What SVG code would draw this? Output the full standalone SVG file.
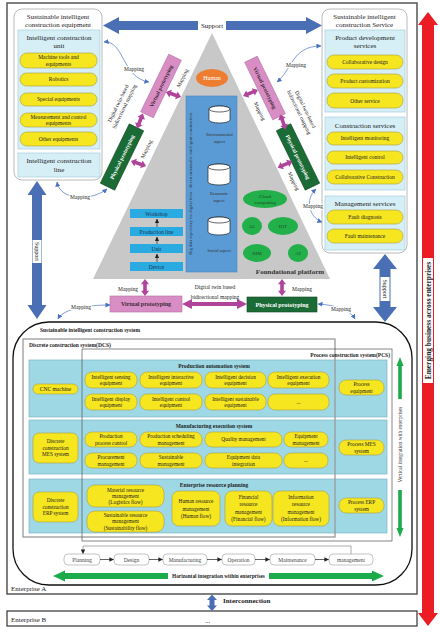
<svg xmlns="http://www.w3.org/2000/svg" width="440" height="634" viewBox="0 0 440 634">
<defs>
<style>
text{font-family:"Liberation Serif","Times New Roman",serif;fill:#222;}
.c{text-anchor:middle;}
.e{text-anchor:end;}
.b{font-weight:bold;}
.f45{font-size:4.5px;}
.f5{font-size:5px;}
.f53{font-size:5.3px;}
.f55{font-size:5.5px;}
.f6{font-size:6px;}
.f7{font-size:7px;}
.halo{paint-order:stroke;stroke:#fff;stroke-width:2px;stroke-linejoin:round;}
.panel{fill:#fff;stroke:#a8a8a8;stroke-width:0.8;}
.lb{fill:#d6eef5;stroke:#a6cfdc;stroke-width:0.7;}
.pill{fill:#f6e61f;stroke:#a89d45;stroke-width:0.6;}
.row{fill:#9fd8e5;stroke:#7cb6c6;stroke-width:0.7;}
.vp{fill:#d88ec4;stroke:#b56fa3;stroke-width:0.6;}
.pp{fill:#1b6b36;stroke:#0f4a22;stroke-width:0.6;}
.mag{fill:#b0449a;}
.blue{fill:#4a6fb5;}
.map{fill:none;stroke:#4a72c4;stroke-width:0.7;marker-start:url(#ba);marker-end:url(#ba);}
.cyl{fill:#fff;stroke:#222;stroke-width:0.7;}
.bar{fill:#29abe2;}
.ge{fill:#22b04b;}
.flow{fill:#fff;stroke:#9a9a9a;stroke-width:0.6;}
.farr{fill:none;stroke:#222;stroke-width:0.7;marker-end:url(#ka);}
</style>
<marker id="ba" viewBox="0 0 6 6" refX="5.5" refY="3" markerWidth="5" markerHeight="5" markerUnits="userSpaceOnUse" orient="auto-start-reverse"><path d="M0,0 L6,3 L0,6 z" fill="#4a72c4"/></marker>
<marker id="ka" viewBox="0 0 6 6" refX="5.5" refY="3" markerWidth="4.5" markerHeight="4.5" markerUnits="userSpaceOnUse" orient="auto"><path d="M0,0 L6,3 L0,6 z" fill="#222"/></marker>
<polygon id="marr" points="-8,0 -3,-4 -3,-1.8 3,-1.8 3,-4 8,0 3,4 3,1.8 -3,1.8 -3,4"/>
</defs>
<rect x="0" y="0" width="440" height="634" fill="#fff"/>

<g id="enterprise-a">
<rect x="7" y="3" width="410" height="591" fill="none" stroke="#555" stroke-width="1.5"/>
<text x="11" y="590.5" class="f7">Enterprise A</text>
</g>
<g id="enterprise-b">
<rect x="7" y="611" width="410" height="15" fill="none" stroke="#333" stroke-width="1.2"/>
<text x="11" y="621.5" class="f7">Enterprise B</text>
<text x="205" y="623" class="f7">...</text>
</g>

<!-- Equipment panel -->
<g id="equipment-panel">
<rect x="14" y="9" width="88" height="171" rx="8" class="panel"/>
<text x="58" y="18.5" class="c f7">Sustainable intelligent</text>
<text x="58" y="26.5" class="c f7">construction equipment</text>
<rect x="18" y="30" width="82" height="119" class="lb"/>
<text x="59" y="40" class="c f7">Intelligent construction</text>
<text x="59" y="48" class="c f7">unit</text>
<rect x="20" y="53" width="77" height="15" rx="7" class="pill"/>
<text x="58.5" y="59.3" class="c f55">Machine tools and</text>
<text x="58.5" y="65.8" class="c f55">equipments</text>
<rect x="20" y="73" width="77" height="13" rx="6.5" class="pill"/>
<text x="58.5" y="81.4" class="c f55">Robotics</text>
<rect x="20" y="93" width="77" height="13" rx="6.5" class="pill"/>
<text x="58.5" y="101.4" class="c f55">Special equipments</text>
<rect x="20" y="113" width="77" height="14" rx="7" class="pill"/>
<text x="58.5" y="119" class="c f55">Measurement and control</text>
<text x="58.5" y="125.3" class="c f55">equipments</text>
<rect x="20" y="132" width="77" height="14" rx="7" class="pill"/>
<text x="58.5" y="140.9" class="c f55">Other equipments</text>
<rect x="18" y="153" width="82" height="24" class="lb"/>
<text x="59" y="163" class="c f7">Intelligent construction</text>
<text x="59" y="172" class="c f7">line</text>
</g>

<!-- Service panel -->
<g id="service-panel">
<rect x="322" y="9" width="85" height="244" rx="8" class="panel"/>
<text x="364.5" y="18.5" class="c f7">Sustainable intelligent</text>
<text x="364.5" y="26.5" class="c f7">construction Service</text>
<rect x="325" y="30" width="80" height="82" class="lb"/>
<text x="365" y="40" class="c f7">Product development</text>
<text x="365" y="48" class="c f7">services</text>
<rect x="327" y="55" width="76" height="14" rx="7" class="pill"/>
<text x="365" y="64" class="c f55">Collaborative design</text>
<rect x="327" y="74" width="76" height="14" rx="7" class="pill"/>
<text x="365" y="83" class="c f55">Product customization</text>
<rect x="327" y="93" width="76" height="15" rx="7" class="pill"/>
<text x="365" y="102.5" class="c f55">Other service</text>
<rect x="325" y="117" width="80" height="73" class="lb"/>
<text x="365" y="128" class="c f7">Construction services</text>
<rect x="327" y="132" width="76" height="13" rx="6.5" class="pill"/>
<text x="365" y="140.4" class="c f55">Intelligent monitoring</text>
<rect x="327" y="151" width="76" height="13" rx="6.5" class="pill"/>
<text x="365" y="159.4" class="c f55">Intelligent control</text>
<rect x="327" y="170" width="76" height="14" rx="7" class="pill"/>
<text x="365" y="178.9" class="c f55">Collaborative Construction</text>
<rect x="325" y="196" width="80" height="54" class="lb"/>
<text x="365" y="206" class="c f7">Management services</text>
<rect x="327" y="210" width="76" height="14" rx="7" class="pill"/>
<text x="365" y="218.9" class="c f55">Fault diagnosis</text>
<rect x="327" y="229" width="76" height="14" rx="7" class="pill"/>
<text x="365" y="237.9" class="c f55">Fault maintenance</text>
</g>

<!-- Pyramid -->
<g id="foundational-platform">
<polygon points="212,33 93,279 330,279" fill="#c8c8c8"/>
<text x="290" y="274" class="c b f7" style="fill:#333">Foundational platform</text>
</g>
<g id="human">
<ellipse cx="212" cy="78" rx="16" ry="9" fill="#ed7d31"/>
<text x="212" y="80.2" class="c f6" style="fill:#fff">Human</text>
</g>
<g id="big-data">
<rect x="186" y="96" width="51" height="176" fill="#5b9bd5" stroke="#4a86c0" stroke-width="0.6"/>
<text transform="translate(191.5,184) rotate(-90)" class="c f45" style="fill:#2b3b4f">Big data repository for digital twin - driven sustainable intelligent construction</text>
<path d="M209,109 v11 a10.5,3 0 0 0 21,0 v-11 a10.5,3 0 0 0 -21,0 z" class="cyl"/>
<ellipse cx="219.5" cy="109" rx="10.5" ry="3" class="cyl"/>
<text x="219.5" y="136" class="c f45" style="fill:#333">Environmental</text>
<text x="219.5" y="142.5" class="c f45" style="fill:#333">aspect</text>
<path d="M208,167 v15 a11,3 0 0 0 22,0 v-15 a11,3 0 0 0 -22,0 z" class="cyl"/>
<ellipse cx="219" cy="167" rx="11" ry="3" class="cyl"/>
<text x="219" y="195" class="c f45" style="fill:#333">Economic</text>
<text x="219" y="202" class="c f45" style="fill:#333">aspect</text>
<path d="M208,220 v12 a11,3 0 0 0 22,0 v-12 a11,3 0 0 0 -22,0 z" class="cyl"/>
<ellipse cx="219" cy="220" rx="11" ry="3" class="cyl"/>
<text x="219" y="252" class="c f45" style="fill:#333">Social aspect</text>
</g>
<g id="workshop"><rect x="130" y="209" width="53" height="9" class="bar"/><text x="156.5" y="215.6" class="c f55" style="fill:#1d2f4a">Workshop</text></g>
<g id="production-line"><rect x="130" y="227" width="53" height="9" class="bar"/><text x="156.5" y="233.6" class="c f55" style="fill:#1d2f4a">Production line</text></g>
<g id="unit"><rect x="130" y="244" width="53" height="9" class="bar"/><text x="156.5" y="250.6" class="c f55" style="fill:#1d2f4a">Unit</text></g>
<g id="device"><rect x="130" y="262" width="53" height="9" class="bar"/><text x="156.5" y="268.6" class="c f55" style="fill:#1d2f4a">Device</text></g>
<g id="cloud"><ellipse cx="265" cy="199" rx="22" ry="9" class="ge"/><text x="265" y="197.5" class="c f5" style="fill:#1c4a26">Cloud</text><text x="265" y="203.5" class="c f5" style="fill:#1c4a26">computing</text></g>
<g id="g5"><ellipse cx="252" cy="226" rx="10" ry="9" class="ge"/><text x="252" y="227.8" class="c f5" style="fill:#1c4a26">5G</text></g>
<g id="iot"><ellipse cx="283" cy="226" rx="15" ry="9" class="ge"/><text x="283" y="227.8" class="c f5" style="fill:#1c4a26">IOT</text></g>
<g id="bim"><ellipse cx="257" cy="253" rx="14" ry="9" class="ge"/><text x="257" y="254.8" class="c f5" style="fill:#1c4a26">BIM</text></g>
<g id="ai"><ellipse cx="298" cy="253" rx="10" ry="9" class="ge"/><text x="298" y="254.8" class="c f5" style="fill:#1c4a26">AI</text></g>

<!-- Prototyping boxes -->
<g id="vp-left" transform="translate(161,86) rotate(-64)"><rect x="-32" y="-7" width="64" height="14" class="vp"/><text x="0" y="2" class="c b f55" style="fill:#3a2a35">Virtual prototyping</text></g>
<g id="pp-left" transform="translate(122,157) rotate(-64)"><rect x="-33" y="-8" width="66" height="16" class="pp"/><text x="0" y="2" class="c b f55" style="fill:#fff">Physical prototyping</text></g>
<g id="vp-right" transform="translate(265,88) rotate(64)"><rect x="-32" y="-7" width="64" height="14" class="vp"/><text x="0" y="2" class="c b f55" style="fill:#3a2a35">Virtual prototyping</text></g>
<g id="pp-right" transform="translate(298,157) rotate(64)"><rect x="-33" y="-8" width="66" height="16" class="pp"/><text x="0" y="2" class="c b f55" style="fill:#fff">Physical prototyping</text></g>
<g id="vp-bottom"><rect x="110" y="296" width="72" height="16" class="vp"/><text x="146" y="306.2" class="c b f6" style="fill:#3a2a35">Virtual prototyping</text></g>
<g id="pp-bottom"><rect x="247" y="297" width="70" height="15" class="pp"/><text x="282" y="306.7" class="c b f6" style="fill:#fff">Physical prototyping</text></g>

<!-- System -->
<g id="system">
<rect x="13" y="322" width="399" height="263" rx="36" fill="none" stroke="#111" stroke-width="1.3"/>
<text x="40" y="331.5" class="b f55">Sustainable intelligent construction system</text>
</g>
<g id="production-automation-system">
<rect x="29" y="360" width="358" height="57" class="row"/>
<text x="214" y="368" class="c b f55">Production automation system</text>
</g>
<g id="manufacturing-execution-system">
<rect x="29" y="420" width="358" height="54" class="row"/>
<text x="214" y="427.5" class="c b f55">Manufacturing execution system</text>
</g>
<g id="enterprise-resource-planning">
<rect x="29" y="479" width="358" height="54" class="row"/>
<text x="214" y="486.5" class="c b f55">Enterprise resource planning</text>
</g>
<g id="dcs">
<rect x="23" y="339" width="312" height="198" fill="none" stroke="#9a9a9a" stroke-width="1.3"/>
<text x="29" y="347" class="b f55">Discrete construction system(DCS)</text>
</g>
<g id="pcs">
<rect x="82" y="349" width="310" height="192" fill="none" stroke="#555" stroke-width="0.7"/>
<text x="390" y="356.5" class="e b f55">Process construction system(PCS)</text>
</g>

<g id="pas-items">
<rect x="33" y="384" width="45" height="10" rx="5" class="pill"/><text x="55.5" y="390.9" class="c f55">CNC machine</text>
<rect x="85" y="372" width="52" height="16" rx="7" class="pill"/><text x="111" y="378.7" class="c f53">Intelligent sensing</text><text x="111" y="385.2" class="c f53">equipment</text>
<rect x="140" y="372" width="62" height="16" rx="7" class="pill"/><text x="171" y="378.7" class="c f53">Intelligent interactive</text><text x="171" y="385.2" class="c f53">equipment</text>
<rect x="205" y="372" width="61" height="16" rx="7" class="pill"/><text x="235.5" y="378.7" class="c f53">Intelligent decision</text><text x="235.5" y="385.2" class="c f53">equipment</text>
<rect x="268" y="372" width="61" height="16" rx="7" class="pill"/><text x="298.5" y="378.7" class="c f53">Intelligent execution</text><text x="298.5" y="385.2" class="c f53">equipment</text>
<rect x="85" y="394" width="52" height="16" rx="7" class="pill"/><text x="111" y="400.7" class="c f53">Intelligent display</text><text x="111" y="407.2" class="c f53">equipment</text>
<rect x="140" y="394" width="62" height="16" rx="7" class="pill"/><text x="171" y="400.7" class="c f53">Intelligent control</text><text x="171" y="407.2" class="c f53">equipment</text>
<rect x="205" y="394" width="61" height="16" rx="7" class="pill"/><text x="235.5" y="400.7" class="c f53">Intelligent sustainable</text><text x="235.5" y="407.2" class="c f53">equipment</text>
<rect x="268" y="394" width="61" height="16" rx="7" class="pill"/><text x="298.5" y="403.5" class="c f53">...</text>
<rect x="339" y="380" width="45" height="15" rx="7" class="pill"/><text x="361.5" y="386.2" class="c f53">Process</text><text x="361.5" y="392.7" class="c f53">equipment</text>
</g>
<g id="mes-items">
<rect x="33" y="433" width="45" height="30" rx="6" class="pill"/><text x="55.5" y="443.4" class="c f53">Discrete</text><text x="55.5" y="449.9" class="c f53">construction</text><text x="55.5" y="456.4" class="c f53">MES system</text>
<rect x="85" y="432" width="52" height="15" rx="7" class="pill"/><text x="111" y="438.2" class="c f53">Production</text><text x="111" y="444.7" class="c f53">process control</text>
<rect x="140" y="432" width="62" height="15" rx="7" class="pill"/><text x="171" y="438.2" class="c f53">Production scheduling</text><text x="171" y="444.7" class="c f53">management</text>
<rect x="205" y="432" width="77" height="15" rx="7" class="pill"/><text x="243.5" y="441.4" class="c f53">Quality management</text>
<rect x="284" y="432" width="44" height="15" rx="7" class="pill"/><text x="306" y="438.2" class="c f53">Equipment</text><text x="306" y="444.7" class="c f53">management</text>
<rect x="85" y="453" width="52" height="15" rx="7" class="pill"/><text x="111" y="459.2" class="c f53">Procurement</text><text x="111" y="465.7" class="c f53">management</text>
<rect x="140" y="453" width="62" height="15" rx="7" class="pill"/><text x="171" y="459.2" class="c f53">Sustainable</text><text x="171" y="465.7" class="c f53">management</text>
<rect x="205" y="453" width="77" height="15" rx="7" class="pill"/><text x="243.5" y="459.2" class="c f53">Equipment data</text><text x="243.5" y="465.7" class="c f53">integration</text>
<rect x="284" y="453" width="44" height="15" rx="7" class="pill"/><text x="306" y="462" class="c f53">...</text>
<rect x="339" y="440" width="45" height="15" rx="7" class="pill"/><text x="361.5" y="446.2" class="c f53">Process MES</text><text x="361.5" y="452.7" class="c f53">system</text>
</g>
<g id="erp-items">
<rect x="33" y="492" width="45" height="30" rx="6" class="pill"/><text x="55.5" y="502.4" class="c f53">Discrete</text><text x="55.5" y="508.9" class="c f53">construction</text><text x="55.5" y="515.4" class="c f53">ERP system</text>
<rect x="87" y="485" width="77" height="22" rx="8" class="pill"/><text x="125.5" y="491.6" class="c f53">Material resource</text><text x="125.5" y="497.9" class="c f53">management</text><text x="125.5" y="504.2" class="c f53">(Logistics flow)</text>
<rect x="87" y="511" width="77" height="21" rx="8" class="pill"/><text x="125.5" y="517.1" class="c f53">Sustainable resource</text><text x="125.5" y="523.4" class="c f53">management</text><text x="125.5" y="529.7" class="c f53">(Sustainability flow)</text>
<rect x="172" y="491" width="48" height="35" rx="7" class="pill"/><text x="196" y="503.2" class="c f53">Human resource</text><text x="196" y="510.7" class="c f53">management</text><text x="196" y="518.2" class="c f53">(Human flow)</text>
<rect x="225" y="491" width="47" height="35" rx="7" class="pill"/><text x="248.5" y="498.8" class="c f53">Financial</text><text x="248.5" y="506.3" class="c f53">resource</text><text x="248.5" y="513.8" class="c f53">management</text><text x="248.5" y="521.3" class="c f53">(Financial flow)</text>
<rect x="273" y="491" width="56" height="35" rx="7" class="pill"/><text x="301" y="498.8" class="c f53">Information</text><text x="301" y="506.3" class="c f53">resource</text><text x="301" y="513.8" class="c f53">management</text><text x="301" y="521.3" class="c f53">(Information flow)</text>
<rect x="339" y="498" width="45" height="15" rx="7" class="pill"/><text x="361.5" y="504.2" class="c f53">Process ERP</text><text x="361.5" y="510.7" class="c f53">system</text>
</g>

<g id="lifecycle">
<g id="planning"><rect x="64" y="554" width="36" height="11" rx="4" class="flow"/><text x="82" y="561.6" class="c f55" style="fill:#444">Planning</text></g>
<g id="design"><rect x="114" y="554" width="35" height="11" rx="4" class="flow"/><text x="131.5" y="561.6" class="c f55" style="fill:#444">Design</text></g>
<g id="manufacturing"><rect x="163" y="554" width="44" height="11" rx="4" class="flow"/><text x="185" y="561.6" class="c f55" style="fill:#444">Manufacturing</text></g>
<g id="operation"><rect x="222" y="554" width="33" height="11" rx="4" class="flow"/><text x="238.5" y="561.6" class="c f55" style="fill:#444">Operation</text></g>
<g id="maintenance"><rect x="270" y="554" width="45" height="11" rx="4" class="flow"/><text x="292.5" y="561.6" class="c f55" style="fill:#444">Maintenance</text></g>
<g id="management"><rect x="329" y="554" width="44" height="11" rx="4" class="flow"/><text x="351" y="561.6" class="c f55" style="fill:#444">management</text></g>
</g>

<!-- Connectors -->
<g id="connectors">
<!-- top support -->
<polygon class="blue" points="103,25.5 119,17 119,21 306,21 306,17 322,25.5 306,34 306,30 119,30 119,34"/>
<rect x="198" y="21" width="28" height="9" fill="#fff"/>
<text x="212" y="28.3" class="c f7">Support</text>
<!-- left support -->
<polygon class="blue" points="37,181 46.5,195 42,195 42,305 46.5,305 37,319 27.5,305 32,305 32,195 27.5,195"/>
<rect x="32.5" y="240" width="9" height="23" fill="#fff"/>
<text transform="translate(37,251.5) rotate(90)" x="0" y="2.2" class="c f6">Support</text>
<!-- right support -->
<polygon class="blue" points="385,254 397,269 390.5,269 390.5,307 397,307 385,322 373,307 379.5,307 379.5,269 373,269"/>
<rect x="380.5" y="277" width="9" height="24" fill="#fff"/>
<text transform="translate(385,289) rotate(90)" x="0" y="2.2" class="c f6">Support</text>
<!-- red emerging business -->
<polygon fill="#ec1c24" points="428,12 438,25 434,25 434,613 438,613 428,626 418,613 422,613 422,25 418,25"/>
<rect x="423" y="258" width="10" height="125" fill="#fff"/>
<text transform="translate(428,320.5) rotate(-90)" x="0" y="2.6" class="c b" style="font-size:7.4px">Emerging business across enterprises</text>
<!-- interconnection -->
<polygon class="blue" points="212,594.5 217,600 214.5,600 214.5,605.5 217,605.5 212,611 207,605.5 209.5,605.5 209.5,600 207,600"/>
<text x="223" y="602.5" class="b f7">Interconnection</text>

<!-- magenta arrows -->
<use href="#marr" class="mag" transform="translate(173.5,94.5) rotate(18)"/>
<use href="#marr" class="mag" transform="translate(140,121) rotate(112)"/>
<use href="#marr" class="mag" transform="translate(138.5,163.5) rotate(18)"/>
<use href="#marr" class="mag" transform="translate(250.5,93) rotate(-22)"/>
<use href="#marr" class="mag" transform="translate(283,122) rotate(70)"/>
<use href="#marr" class="mag" transform="translate(285,164.5) rotate(-24)"/>
<use href="#marr" class="mag" transform="translate(145,287.5) rotate(90) scale(1.05,1)"/>
<use href="#marr" class="mag" transform="translate(282,287.5) rotate(90) scale(1.05,1)"/>
<polygon class="mag" points="182,304 192,299 192,302 237,302 237,299 247,304 237,309 237,306 192,306 192,309"/>

<!-- mapping labels near triangle -->
<text transform="translate(184,79) rotate(-64)" class="c f55">Mapping</text>
<text transform="translate(148,150) rotate(-64)" class="c f55">Mapping</text>
<text transform="translate(258,112) rotate(64)" class="c f55">Mapping</text>
<text transform="translate(292,182) rotate(64)" class="c f55">Mapping</text>
<text x="128" y="291" class="c f55">Mapping</text>
<text x="302" y="291" class="c f55">Mapping</text>

<!-- digital twin labels -->
<g transform="translate(121.5,105) rotate(-64)">
<text x="0" y="-2" class="c f55">Digital twin-based</text>
<text x="0" y="5" class="c f55">bidirectional mapping</text>
</g>
<g transform="translate(302,111) rotate(64)">
<text x="0" y="-2" class="c f55">Digital twin-based</text>
<text x="0" y="5" class="c f55">bidirectional mapping</text>
</g>
<text x="215" y="289" class="c f55">Digital twin based</text>
<text x="215" y="298.5" class="c f55">bidirectional mapping</text>

<!-- blue mapping curves -->
<path class="map" d="M104,42 C124,40 122,78 149,82"/>
<text x="134" y="71" class="c f55 halo">Mapping</text>
<path class="map" d="M57,182 C60,201 92,201 107,189"/>
<text x="80" y="199" class="c f55 halo">Mapping</text>
<path class="map" d="M277,82 C292,70 292,46 321,46"/>
<text x="296" y="67" class="c f55 halo">Mapping</text>
<path class="map" d="M316,189 C304,200 310,218 322,222"/>
<text x="313" y="207.5" class="c f55 halo">Mapping</text>
<path class="map" d="M110,305 C88,305 64,308 58,319"/>
<text x="81" y="309" class="c f55 halo">Mapping</text>
<path class="map" d="M318,304 C336,305 350,310 355,319"/>
<text x="341" y="310.5" class="c f55 halo">Mapping</text>

<!-- hierarchy arrows -->
<line x1="157" y1="262" x2="157" y2="254" class="farr"/>
<line x1="157" y1="244" x2="157" y2="237" class="farr"/>
<line x1="157" y1="227" x2="157" y2="219" class="farr"/>

<!-- lifecycle arrows -->
<line x1="100" y1="559.5" x2="113.5" y2="559.5" class="farr"/>
<line x1="149" y1="559.5" x2="162.5" y2="559.5" class="farr"/>
<line x1="207" y1="559.5" x2="221.5" y2="559.5" class="farr"/>
<line x1="255" y1="559.5" x2="269.5" y2="559.5" class="farr"/>
<line x1="315" y1="559.5" x2="328.5" y2="559.5" class="farr"/>
<polyline points="351,554 351,546 83,546 83,553.5" fill="none" stroke="#8a8a8a" stroke-width="0.7" marker-end="url(#ka)"/>

<!-- horizontal integration -->
<polygon fill="#1cab4b" points="53,576 65,570.5 65,573 168,573 168,579 65,579 65,581.5"/>
<polygon fill="#1cab4b" points="269,573 372,573 372,570.5 384,576 372,581.5 372,579 269,579"/>
<text x="218.5" y="578" class="c b f53">Horizontal integration within enterprises</text>
<!-- vertical integration -->
<polygon fill="#1cab4b" points="400,357 403.5,366 401.8,366 401.8,399 398.2,399 398.2,366 396.5,366"/>
<polygon fill="#1cab4b" points="398.2,490 401.8,490 401.8,528 403.5,528 400,537 396.5,528 398.2,528"/>
<text transform="translate(400,444.5) rotate(-90)" x="0" y="1.8" class="c f53" style="fill:#444">Vertical integration with enterprises</text>
</g>
</svg>
